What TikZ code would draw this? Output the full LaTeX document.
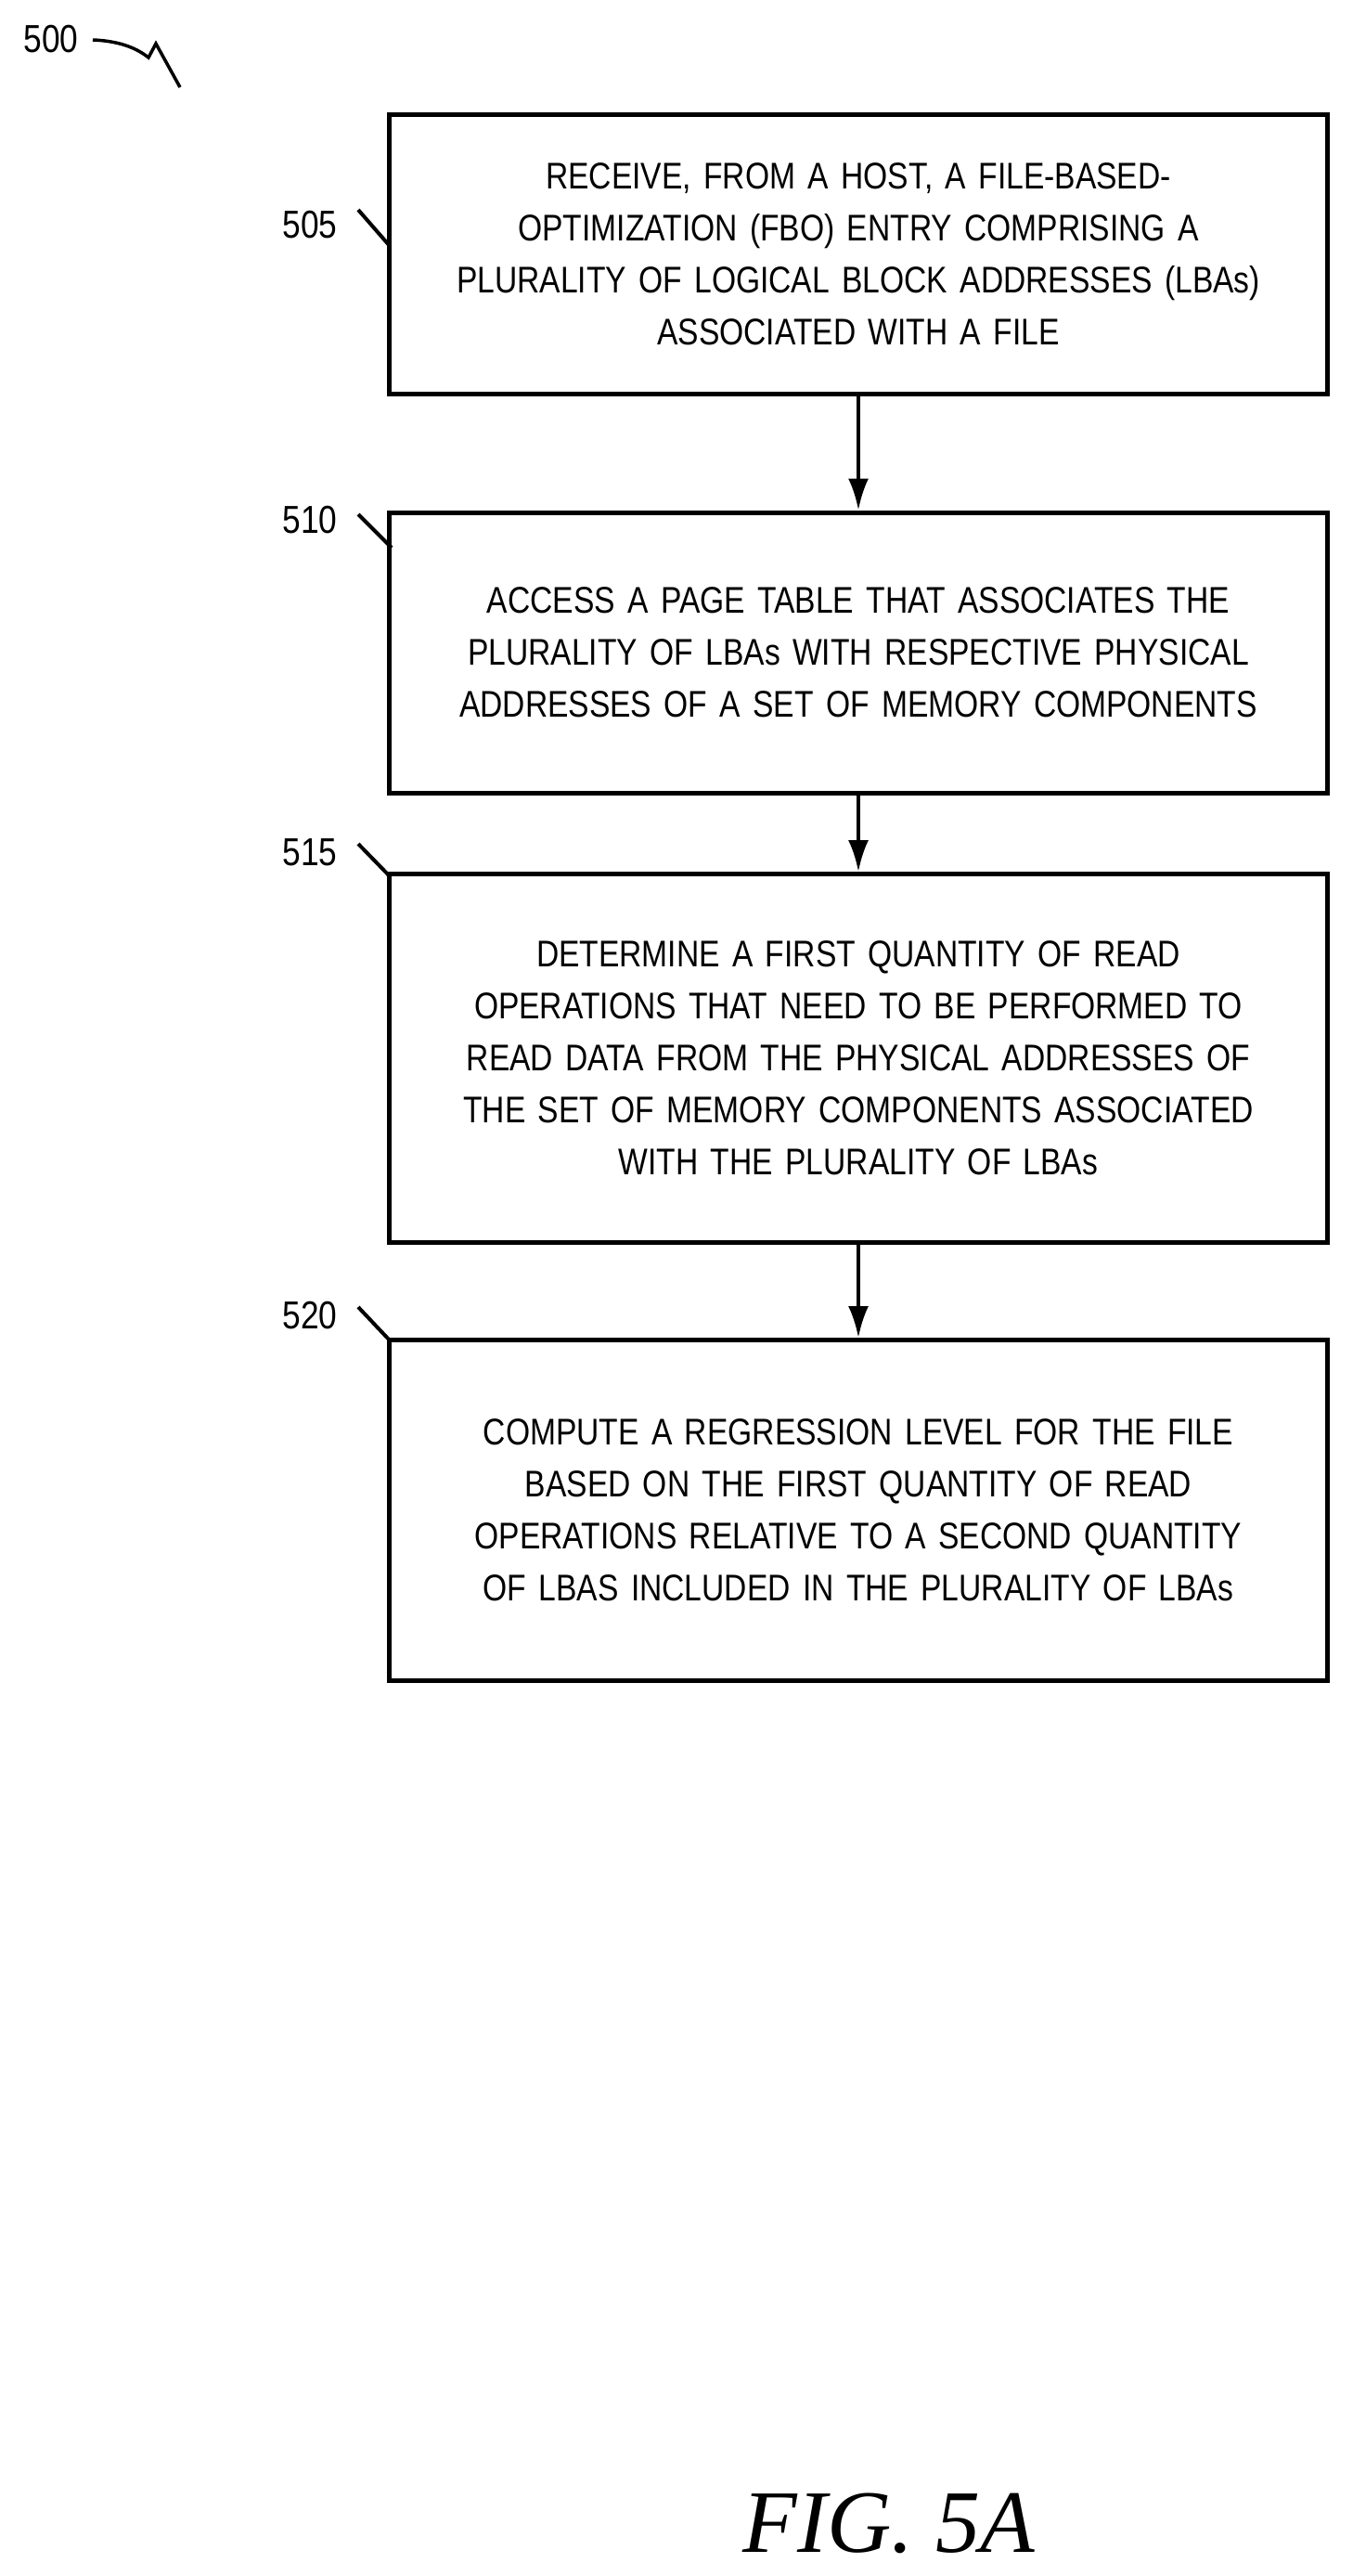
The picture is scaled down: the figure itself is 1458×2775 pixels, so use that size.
\documentclass[tikz,border=0pt]{standalone}
\usepackage{fontspec}
\setmainfont{Liberation Sans}[FakeStretch=0.84]
\newfontfamily\figfont{Liberation Serif}
\usetikzlibrary{positioning,arrows.meta}

\tikzset{every picture/.style={line width=5pt}}
\tikzset{
  flowbox/.style={draw, line width=5pt, text width=990pt, align=center, inner sep=8pt,
    font=\fontsize{40}{56}\selectfont},
  ref/.style={font=\fontsize{42}{48}\selectfont, inner sep=0pt},
  flow/.style={-{Latex[length=34pt,width=22pt]}, line width=4pt},
}

\begin{document}
\begin{tikzpicture}[x=1pt,y=1pt,yscale=-1]
\useasboundingbox (0,0) rectangle (1458,2775);

% Boxes
\node [flowbox, minimum width=1011pt, minimum height=301pt] (s505) at (925,274) {RECEIVE, FROM A HOST, A FILE-BASED-\\OPTIMIZATION (FBO) ENTRY COMPRISING A\\PLURALITY OF LOGICAL BLOCK ADDRESSES (LBAs)\\ASSOCIATED WITH A FILE};
\node [flowbox, minimum width=1011pt, minimum height=302pt] (s510) at (925,703) {ACCESS A PAGE TABLE THAT ASSOCIATES THE\\PLURALITY OF LBAs WITH RESPECTIVE PHYSICAL\\ADDRESSES OF A SET OF MEMORY COMPONENTS};
\node [flowbox, minimum width=1011pt, minimum height=397pt] (s515) at (925,1140) {DETERMINE A FIRST QUANTITY OF READ\\OPERATIONS THAT NEED TO BE PERFORMED TO\\READ DATA FROM THE PHYSICAL ADDRESSES OF\\THE SET OF MEMORY COMPONENTS ASSOCIATED\\WITH THE PLURALITY OF LBAs};
\node [flowbox, minimum width=1011pt, minimum height=367pt] (s520) at (925,1627) {COMPUTE A REGRESSION LEVEL FOR THE FILE\\BASED ON THE FIRST QUANTITY OF READ\\OPERATIONS RELATIVE TO A SECOND QUANTITY\\OF LBAS INCLUDED IN THE PLURALITY OF LBAs};

% Arrows
\draw [flow] (s505) -- (s510);
\draw [flow] (s510) -- (s515);
\draw [flow] (s515) -- (s520);

% Reference numerals
\node [ref] (l505) at (334,242) {505};
\draw [line width=4pt] (386,226) -- (420,265);
\node [ref] (l510) at (334,560) {510};
\draw [line width=4pt] (386,554) -- (422,590);
\node [ref] (l515) at (334,918) {515};
\draw [line width=4pt] (386,909) -- (420,944);
\node [ref] (l520) at (334,1417) {520};
\draw [line width=4pt] (386,1408) -- (420,1444);

% Figure number
\node [ref] (l500) at (55,42) {500};
\draw [line width=3.5pt, line join=miter] (100,43) .. controls (125,44) and (145,50) .. (160,62) -- (168,47) -- (194,94);

\node [font=\figfont\itshape\fontsize{96}{100}\selectfont, inner sep=0pt] (fig) at (958,2718) {FIG. 5A};
\end{tikzpicture}
\end{document}
